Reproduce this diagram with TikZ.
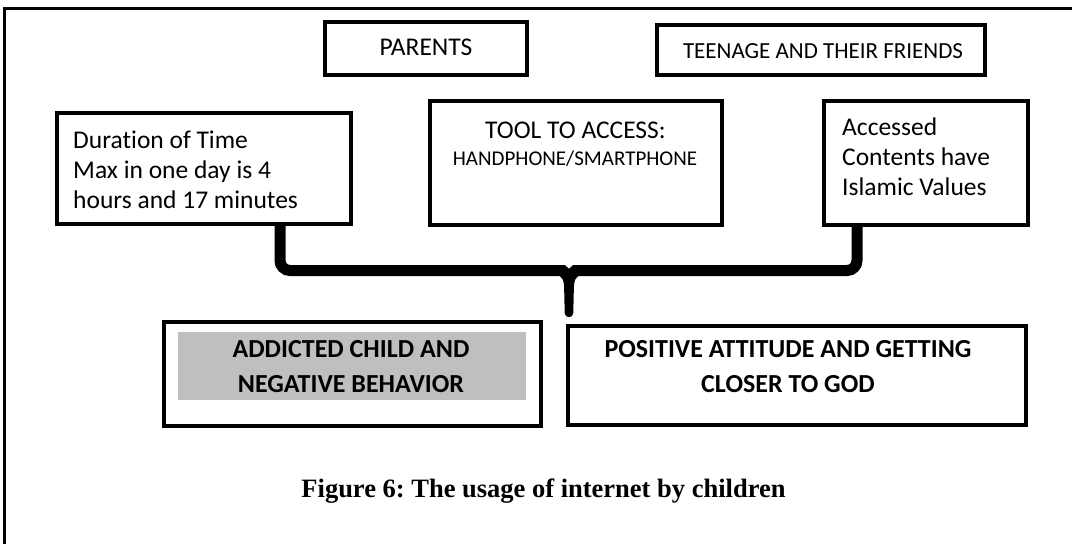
\documentclass[tikz,border=0pt]{standalone}
\usepackage{fontspec}
\setmainfont{Carlito}[Ligatures=NoCommon]
\newfontfamily\captionfont{Liberation Serif}
\frenchspacing
\definecolor{shadegray}{HTML}{BFBFBF}
\tikzset{
  box/.style={draw, line width=4pt, inner sep=0pt, fill=white},
  frameline/.style={line width=3pt},
  plain/.style={inner sep=0pt, font=\fontsize{25.5}{30}\selectfont},
  small/.style={inner sep=0pt, font=\fontsize{21}{25}\selectfont},
  heading/.style={inner sep=0pt, font=\fontsize{23}{28}\selectfont},
  strong/.style={inner sep=0pt, font=\fontsize{26}{32}\selectfont\bfseries},
  caption/.style={inner sep=0pt, font=\fontsize{26.5}{32}\selectfont\captionfont\bfseries},
  bracestroke/.style={line width=11pt, rounded corners=10pt},
}
\begin{document}
\begin{tikzpicture}[x=1pt,y=-1pt]
\useasboundingbox (0,0) rectangle (1072,544);

% page frame (top and left edges)
\draw[frameline] (4,544) -- (4,8.5) -- (1072,8.5);

% influences at the top
\node[box, minimum width=202pt, minimum height=53pt] (par) at (426,48.5) {};
\node[plain, anchor=base] (partxt) at (426,55) {PARENTS};

\node[box, minimum width=328pt, minimum height=50pt] (teen) at (821,50) {};
\node[heading, anchor=base] (teentxt) at (823,58) {TEENAGE AND THEIR FRIENDS};

% the three factors
\node[box, minimum width=294pt, minimum height=111pt] (dur) at (204,168.5) {};
\node[plain, anchor=base west] (dur1) at (73,148) {Duration of Time};
\node[plain, anchor=base west] (dur2) at (73,178) {Max in one day is 4};
\node[plain, anchor=base west] (dur3) at (73,208) {hours and 17 minutes};

\node[box, minimum width=292pt, minimum height=124pt] (tool) at (576,163) {};
\node[plain, anchor=base] (tool1) at (575.5,138) {TOOL TO ACCESS:};
\node[small, anchor=base] (tool2) at (575,165) {HANDPHONE/SMARTPHONE};

\node[box, minimum width=204pt, minimum height=124pt] (acc) at (926,163) {};
\node[plain, anchor=base west] (acc1) at (842,135) {Accessed};
\node[plain, anchor=base west] (acc2) at (842,165) {Contents have};
\node[plain, anchor=base west] (acc3) at (842,195) {Islamic Values};

% curly brace joining the factors
\coordinate (bl) at (280,0);
\coordinate (br) at (857,0);
\coordinate (knot) at (569,270.5);
\draw[bracestroke] (dur.south -| bl) |- (knot) -| (acc.south -| br);
\begin{scope}[shift={(knot)}]
  \fill (-13,4.5) .. controls (-6,5.5) and (-5,10) .. (-4.8,20)
        -- (-4.3,42.5) .. controls (-4.3,48) and (4.3,48) .. (4.3,42.5)
        -- (4.8,20) .. controls (5,10) and (6,5.5) .. (13,4.5) -- cycle;
  \fill[white] (-4.5,-6) -- (0,-2) -- (4.5,-6) -- cycle;
\end{scope}

% outcomes
\node[box, minimum width=377pt, minimum height=104pt] (add) at (352.5,374) {};
\node[fill=shadegray, inner sep=0pt, minimum width=348pt, minimum height=68pt] (addfill) at (352,366) {};
\node[strong, anchor=base] (add1) at (351,357) {ADDICTED CHILD AND};
\node[strong, anchor=base] (add2) at (351,392) {NEGATIVE BEHAVIOR};

\node[box, minimum width=458pt, minimum height=99pt] (pos) at (797,375.5) {};
\node[strong, anchor=base] (pos1) at (788,357) {POSITIVE ATTITUDE AND GETTING};
\node[strong, anchor=base] (pos2) at (788,392) {CLOSER TO GOD};

% figure caption
\node[caption, anchor=base] (cap) at (543.5,497) {Figure 6: The usage of internet by children};
\end{tikzpicture}
\end{document}
